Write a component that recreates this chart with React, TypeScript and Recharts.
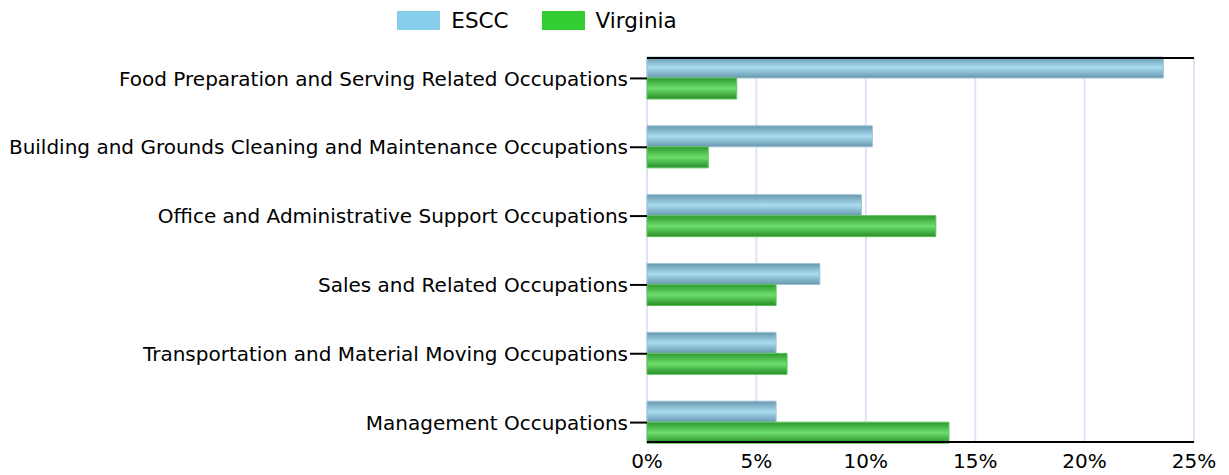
import React from 'react'
import { BarChart, Bar, XAxis, YAxis, CartesianGrid, Legend } from 'recharts'

const occupations = [
  'Food Preparation and Serving Related Occupations',
  'Building and Grounds Cleaning and Maintenance Occupations',
  'Office and Administrative Support Occupations',
  'Sales and Related Occupations',
  'Transportation and Material Moving Occupations',
  'Management Occupations'
]
const escc = [23.6, 10.3, 9.8, 7.9, 5.9, 5.9]
const virginia = [4.1, 2.8, 13.2, 5.9, 6.4, 13.8]
const xTicks = [0, 5, 10, 15, 20, 25]

const data = occupations.map((name, i) => ({ name, ESCC: escc[i], Virginia: virginia[i] }))

const FONT = '"DejaVu Sans", Verdana, sans-serif'

const legendItems = [
  { label: 'ESCC', color: '#87CEEB' },
  { label: 'Virginia', color: '#32CD32' }
]

function LegendBox() {
  return (
    <div style={{ height: 40, display: 'flex', justifyContent: 'center', alignItems: 'center', fontFamily: FONT, fontSize: 21.5, color: '#000' }}>
      {legendItems.map((it, i) => (
        <div key={it.label} style={{ display: 'flex', alignItems: 'center', marginLeft: i ? 33 : 0 }}>
          <span style={{ display: 'inline-block', width: 43, height: 19, background: it.color, marginRight: 11 }} />
          <span>{it.label}</span>
        </div>
      ))}
    </div>
  )
}

export default function App() {
  return (
    <div style={{ position: 'absolute', left: 0, top: 0, background: '#fff' }}>
      <BarChart
        width={1229}
        height={475}
        data={data}
        layout="vertical"
        margin={{ top: 17, right: 35, bottom: 0, left: 0 }}
        barGap={0}
        barSize={21}
      >
        <defs>
          <linearGradient id="gEscc" x1="0" y1="0" x2="0" y2="1">
            <stop offset="0%" stopColor="#6797ad" />
            <stop offset="50%" stopColor="#a9dcf0" />
            <stop offset="100%" stopColor="#6696ac" />
          </linearGradient>
          <linearGradient id="gVa" x1="0" y1="0" x2="0" y2="1">
            <stop offset="0%" stopColor="#2e982e" />
            <stop offset="50%" stopColor="#6cde6c" />
            <stop offset="100%" stopColor="#288d28" />
          </linearGradient>
        </defs>
        <Legend
          verticalAlign="top"
          align="center"
          content={() => <LegendBox />}
          wrapperStyle={{ top: 0, left: 0, width: 1229, paddingRight: 155, boxSizing: 'border-box' }}
        />
        <CartesianGrid horizontal={false} vertical stroke="#e2e2f6" strokeWidth={2} />
        <XAxis
          xAxisId="top"
          orientation="top"
          type="number"
          domain={[0, 25]}
          ticks={xTicks}
          height={1}
          tick={false}
          tickLine={false}
          axisLine={{ stroke: '#000', strokeWidth: 2 }}
        />
        <XAxis
          type="number"
          domain={[0, 25]}
          ticks={xTicks}
          tickFormatter={(v) => `${v}%`}
          height={33}
          tickLine={false}
          tickSize={0}
          tickMargin={12}
          axisLine={{ stroke: '#000', strokeWidth: 2 }}
          tick={{ fill: '#000', fontSize: 20, fontFamily: FONT }}
          interval={0}
        />
        <YAxis
          type="category"
          dataKey="name"
          width={647}
          padding={{ top: -14, bottom: -15 }}
          axisLine={false}
          tickLine={{ stroke: '#000', strokeWidth: 2 }}
          tickSize={17}
          tickMargin={2}
          tick={{ fill: '#000', fontSize: 20, fontFamily: FONT }}
          interval={0}
        />
        <Bar dataKey="ESCC" fill="url(#gEscc)" stroke="#9cc4d6" strokeWidth={1} isAnimationActive={false} />
        <Bar dataKey="Virginia" fill="url(#gVa)" stroke="#5cc45c" strokeWidth={1} isAnimationActive={false} />
      </BarChart>
    </div>
  )
}
